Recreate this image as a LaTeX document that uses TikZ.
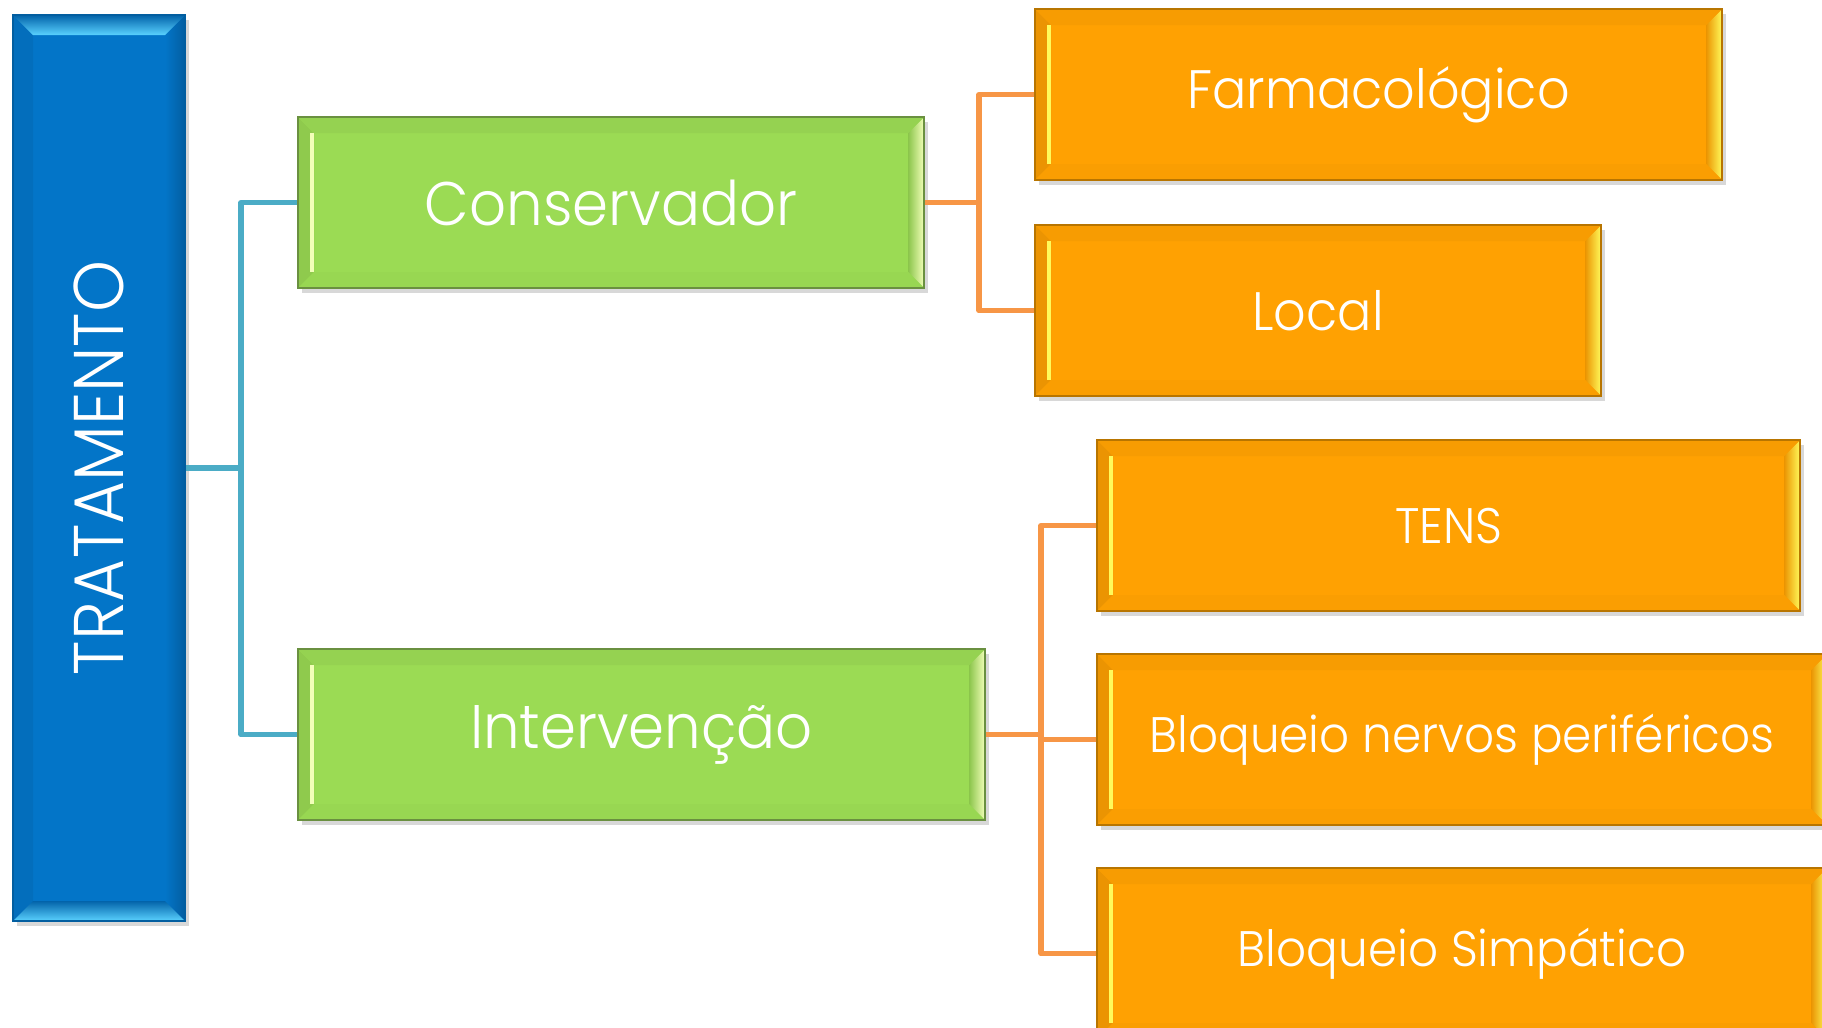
\documentclass[tikz,border=0pt]{standalone}
\usepackage{fontspec}
\setmainfont{Poppins}[UprightFont=* Light, FakeStretch=0.94]
\usetikzlibrary{shadows}

\definecolor{treatblue}{HTML}{0375C8}
\definecolor{bluelight}{HTML}{5AD2FF}
\definecolor{leafgreen}{HTML}{9BDB54}
\definecolor{greenedge}{HTML}{6A9040}
\definecolor{greenlight}{HTML}{F2FFB8}
\definecolor{leaforange}{HTML}{FFA102}
\definecolor{orangeedge}{HTML}{B87500}
\definecolor{orangelight}{HTML}{FFFA5A}
\definecolor{lineblue}{HTML}{4BACC6}
\definecolor{lineorange}{HTML}{F79646}

% bevel strips inside a box: width, left, right, top, bottom, left inner edge
\newcommand{\bevelstrips}[6]{%
  \path[#2] (path picture bounding box.north west) -- (path picture bounding box.south west)
    -- ([shift={(#1,#1)}]path picture bounding box.south west)
    -- ([shift={(#1,-#1)}]path picture bounding box.north west) -- cycle;
  \path[#3] (path picture bounding box.north east) -- (path picture bounding box.south east)
    -- ([shift={(-#1,#1)}]path picture bounding box.south east)
    -- ([shift={(-#1,-#1)}]path picture bounding box.north east) -- cycle;
  \path[#4] (path picture bounding box.north west) -- (path picture bounding box.north east)
    -- ([shift={(-#1,-#1)}]path picture bounding box.north east)
    -- ([shift={(#1,-#1)}]path picture bounding box.north west) -- cycle;
  \path[#5] (path picture bounding box.south west) -- (path picture bounding box.south east)
    -- ([shift={(-#1,#1)}]path picture bounding box.south east)
    -- ([shift={(#1,#1)}]path picture bounding box.south west) -- cycle;
  \path[#6, line width=1.3pt] ([shift={(#1-0.02cm,#1)}]path picture bounding box.south west)
    -- ([shift={(#1-0.02cm,-#1)}]path picture bounding box.north west);
}

\tikzset{
  bevelbox/.style={anchor=north west, inner sep=0pt, line width=0.6pt,
    minimum height=1.71cm, text=white, font=\fontsize{15.4}{19}\selectfont,
    drop shadow={shadow xshift=0.04cm, shadow yshift=-0.05cm, opacity=0.3}},
  treatbox/.style={bevelbox, draw=treatblue!80!black, fill=treatblue,
    font=\fontsize{20}{24}\selectfont,
    path picture={\bevelstrips{0.2cm}
      {fill=treatblue!94!black}
      {left color=treatblue, right color=treatblue!80!black}
      {top color=treatblue!85!black, middle color=treatblue, bottom color=bluelight}
      {top color=treatblue!85!black, middle color=bluelight!50!treatblue, bottom color=bluelight}
      {draw=none}}},
  midbox/.style={bevelbox, draw=greenedge, fill=leafgreen,
    font=\fontsize{17.5}{21}\selectfont,
    path picture={\bevelstrips{0.16cm}
      {left color=leafgreen!92!black, right color=leafgreen}
      {left color=leafgreen!90!black, middle color=greenlight!60!leafgreen, right color=greenlight}
      {fill=leafgreen!96!black}
      {fill=leafgreen!98!black}
      {draw=greenlight}}},
  leafbox/.style={bevelbox, draw=orangeedge, fill=leaforange,
    path picture={\bevelstrips{0.16cm}
      {left color=leaforange!92!black, right color=leaforange}
      {left color=leaforange!92!black, middle color=orangelight!55!leaforange, right color=orangelight}
      {fill=leaforange!97!black}
      {fill=leaforange!98!black}
      {draw=orangelight}}},
  smallleaf/.style={leafbox, font=\fontsize{14.2}{17}\selectfont},
  bluelink/.style={draw=lineblue, line width=1.6pt, line join=round},
  orangelink/.style={draw=lineorange, line width=1.6pt, line join=round}
}

\begin{document}
\begin{tikzpicture}
\fill[white] (0,0) rectangle (18.22,-10.27);
\useasboundingbox (0,0) rectangle (18.22,-10.27);

% root
\node[treatbox, minimum width=1.72cm, minimum height=9.06cm] (treat) at (0.12,-0.14) {\rotatebox{90}{TRATAMENTO}};

% second level
\node[midbox, minimum width=6.26cm] (cons) at (2.97,-1.16) {Conservador};
\node[midbox, minimum width=6.87cm] (interv) at (2.97,-6.48) {Intervenção};

% leaves
\node[leafbox, minimum width=6.87cm] (farm) at (10.34,-0.08) {Farmacológico};
\node[leafbox, minimum width=5.66cm] (local) at (10.34,-2.24) {Local};
\node[smallleaf, minimum width=7.03cm] (tens) at (10.96,-4.39) {TENS};
\node[smallleaf, minimum width=7.30cm] (nerv) at (10.96,-6.53) {Bloqueio nervos periféricos};
\node[smallleaf, minimum width=7.30cm] (simp) at (10.96,-8.67) {Bloqueio Simpático};

% connectors
\draw[bluelink] (treat.east) -- ++(0.55,0) coordinate (tfork) |- (cons.west);
\draw[bluelink] (tfork) |- (interv.west);

\draw[orangelink] (cons.east) -- ++(0.54,0) coordinate (cfork) |- (farm.west);
\draw[orangelink] (cfork) |- (local.west);

\draw[orangelink] (interv.east) -- ++(0.55,0) coordinate (ifork) |- (tens.west);
\draw[orangelink] (ifork) |- (nerv.west);
\draw[orangelink] (ifork) |- (simp.west);

\end{tikzpicture}
\end{document}
